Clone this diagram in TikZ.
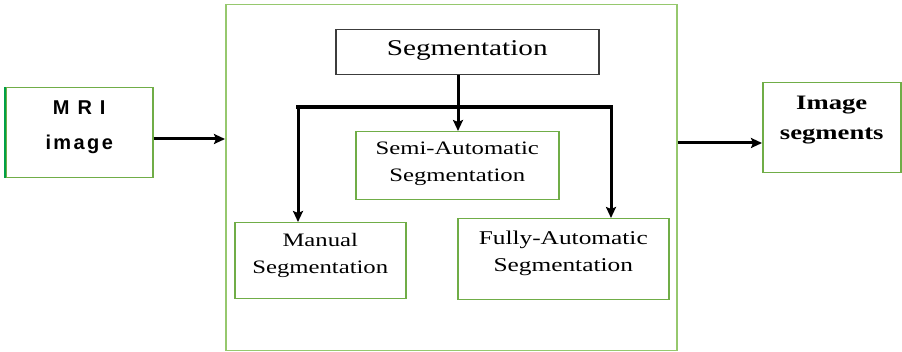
\documentclass[tikz,border=0pt]{standalone}
\usepackage{fontspec}
\setmainfont[FakeStretch=1.3]{Liberation Serif}
\newfontfamily\mrifont[LetterSpace=12]{Liberation Sans}
\usetikzlibrary{arrows.meta,calc}
\definecolor{gbox}{RGB}{112,173,71}
\definecolor{gbig}{RGB}{150,200,110}
\definecolor{gdark}{RGB}{0,160,70}
\definecolor{segedge}{RGB}{60,60,60}
\tikzset{
  gbx/.style={draw=gbox, line width=1.5pt, anchor=north west, inner sep=0pt},
  txt/.style={align=center, inner sep=0pt, text=black},
  arr/.style={line width=3pt, -{Stealth[length=11pt,width=10pt,inset=2pt]}},
  barline/.style={line width=3.2pt, line cap=rect},
}
\begin{document}
\begin{tikzpicture}[x=1pt,y=-1pt]
\useasboundingbox (0,0) rectangle (902,352);
% boxes
\node[draw=gbig, line width=1.5pt, anchor=north west, inner sep=0pt, minimum width=451pt, minimum height=346pt] (big) at (225,4) {};
\node[gbx, minimum width=147pt, minimum height=90pt] (mri) at (5,87) {};
\draw[gdark, line width=2.6pt] (mri.north west) -- (mri.south west);
\node[draw=segedge, line width=1.5pt, anchor=north west, inner sep=0pt, minimum width=263pt, minimum height=45pt] (seg) at (335,29) {};
\node[gbx, minimum width=203pt, minimum height=68pt] (semi) at (355,131) {};
\node[gbx, minimum width=171pt, minimum height=76pt] (man) at (234,222) {};
\node[gbx, minimum width=211pt, minimum height=81pt] (fully) at (457,218) {};
\node[gbx, minimum width=138pt, minimum height=90pt] (imgs) at (762,82) {};
% texts
\node[txt, font=\mrifont\bfseries\fontsize{20}{35}\selectfont] (mrit) at ($(mri.center)+(0,-6)$) {M R I\\image};
\node[txt, font=\fontsize{22.5}{24}\selectfont] (segt) at ($(seg.center)+(0,-2)$) {Segmentation};
\node[txt, font=\fontsize{19}{27}\selectfont] (semit) at ($(semi.center)+(0,-2)$) {Semi-Automatic\\Segmentation};
\node[txt, font=\fontsize{19}{27}\selectfont] (mant) at ($(man.center)+(0,-5)$) {Manual\\Segmentation};
\node[txt, font=\fontsize{19.5}{27}\selectfont] (fullyt) at ($(fully.center)+(0,-6)$) {Fully-Automatic\\Segmentation};
\node[txt, font=\bfseries\fontsize{20.5}{30}\selectfont] (imgst) at ($(imgs.center)+(0,-8)$) {Image\\segments};
% connectors
\coordinate (bl) at (298,107);
\coordinate (br) at (611,107);
\coordinate (segb) at (458,107);
\draw[barline] (bl) -- (br);
\draw[arr] (seg.south -| segb) -- (semi.north -| segb);
\draw[arr] (bl) -- (man.north -| bl);
\draw[arr] (br) -- (fully.north -| br);
\coordinate (inA) at (152,139);
\draw[arr] (mri.east |- inA) -- (big.west |- inA);
\coordinate (outA) at (676,143);
\draw[arr] (big.east |- outA) -- (imgs.west |- outA);
\end{tikzpicture}
\end{document}
